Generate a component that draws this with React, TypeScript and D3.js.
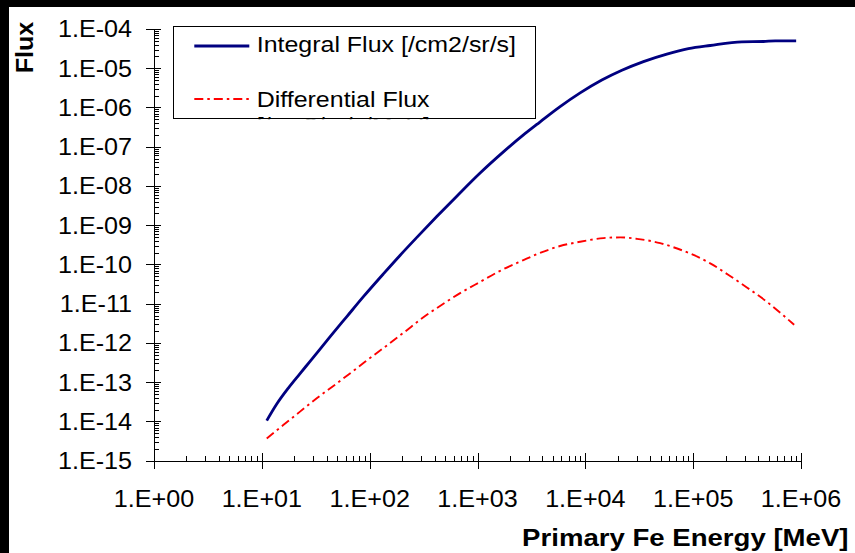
import React from "react";
import * as d3 from "d3";

// Integral flux of primary Fe vs. energy
const integralEnergy = [
  11.1, 13.7, 17.6, 22.6, 28.0, 43.0, 61.4, 87.5, 134, 191, 274, 419, 643, 1057,
  1738, 2667, 3548, 4550, 5834, 8954, 14220, 21830, 34590, 57020, 90360, 143900,
  283100, 448700, 576800, 901600,
];
const integralFlux = [
  1.05e-14, 2.75e-14, 7.1e-14, 1.66e-13, 3.4e-13, 1.45e-12, 4.7e-12, 1.51e-11,
  5.75e-11, 1.7e-10, 4.9e-10, 1.66e-9, 5.5e-9, 2.14e-8, 7.4e-8, 2.0e-7, 3.7e-7,
  6.3e-7, 1.05e-6, 2.35e-6, 5.0e-6, 8.9e-6, 1.48e-5, 2.3e-5, 3.16e-5, 3.8e-5,
  4.7e-5, 4.8e-5, 5.0e-5, 5.0e-5,
];

// Differential flux of primary Fe vs. energy
const differentialEnergy = [
  11.1, 15.8, 22.6, 32.3, 49.5, 70.6, 90.6, 134, 206, 315, 483, 690, 1057, 1622,
  2667, 3548, 5834, 8954, 14720, 21040, 30060, 49430, 65610, 93760, 143900,
  212800, 314800, 483100, 688700, 865000,
];
const differentialFlux = [
  3.7e-15, 8.1e-15, 1.78e-14, 3.9e-14, 9.3e-14, 1.95e-13, 3.3e-13, 7.4e-13,
  1.82e-12, 4.5e-12, 1.0e-11, 1.86e-11, 3.6e-11, 6.9e-11, 1.29e-10, 1.82e-10,
  2.95e-10, 3.8e-10, 4.7e-10, 4.9e-10, 4.5e-10, 3.5e-10, 2.75e-10, 1.9e-10,
  1.07e-10, 5.4e-11, 2.6e-11, 1.12e-11, 5.0e-12, 2.9e-12,
];

const xTickLabels = ["1.E+00", "1.E+01", "1.E+02", "1.E+03", "1.E+04", "1.E+05", "1.E+06"];
const yTickLabels = [
  "1.E-15", "1.E-14", "1.E-13", "1.E-12", "1.E-11", "1.E-10",
  "1.E-09", "1.E-08", "1.E-07", "1.E-06", "1.E-05", "1.E-04",
];
const xTitle = "Primary Fe Energy [MeV]";
const yTitle = "Flux";
const integralLegend = ["Integral Flux [/cm2/sr/s]"];
const differentialLegend = ["Differential Flux", "[/cm2/sr/s/MeV]"];

const W = 855;
const H = 553;
const FONT = "'Liberation Sans', Arial, Helvetica, sans-serif";
const NAVY = "#000080";
const RED = "#ff0000";
const DASH = "9,4,2.5,4";

const x = d3.scaleLog().domain([1, 1e6]).range([154, 801]);
const y = d3.scaleLog().domain([1e-15, 1e-4]).range([460.7, 29]);

const xMajor = d3.range(0, 7).map((k) => Math.pow(10, k));
const yMajor = d3.range(-15, -3).map((k) => Math.pow(10, k));
const xMinor = d3.range(0, 6).flatMap((k) => d3.range(2, 10).map((m) => m * Math.pow(10, k)));
const yMinor = d3.range(-15, -4).flatMap((k) => d3.range(2, 10).map((m) => m * Math.pow(10, k)));

const line = d3
  .line<[number, number]>()
  .x((d) => x(d[0]))
  .y((d) => y(d[1]))
  .curve(d3.curveMonotoneX);

const integralPath = line(integralEnergy.map((e, i) => [e, integralFlux[i]] as [number, number]));
const differentialPath = line(
  differentialEnergy.map((e, i) => [e, differentialFlux[i]] as [number, number])
);

type LabelProps = {
  x: number;
  y: number;
  size: number;
  sx?: number;
  anchor?: "start" | "middle" | "end";
  bold?: boolean;
  rotate?: number;
  fill?: string;
  children: React.ReactNode;
};

function Label({ x, y, size, sx = 1, anchor = "start", bold, rotate = 0, fill = "#000", children }: LabelProps) {
  return (
    <g transform={`translate(${x},${y}) rotate(${rotate}) scale(${sx},1)`}>
      <text
        x={0}
        y={0}
        textAnchor={anchor}
        fontFamily={FONT}
        fontSize={size}
        fontWeight={bold ? "bold" : "normal"}
        fill={fill}
      >
        {children}
      </text>
    </g>
  );
}

export default function App() {
  const x0 = x(1);
  const yBase = y(1e-15);
  const crisp = (v: number) => Math.round(v) + 0.5;

  return (
    <div style={{ position: "absolute", left: 0, top: 0, width: W, height: H }}>
      <svg width={W} height={H} viewBox={`0 0 ${W} ${H}`} style={{ display: "block" }}>
        <defs>
          <clipPath id="legend-clip">
            <rect x={173} y={26} width={364} height={93.3} />
          </clipPath>
        </defs>
        <rect x={0} y={0} width={W} height={H} fill="#fff" />
        <rect x={0} y={0} width={W} height={7} fill="#000" />
        <rect x={0} y={0} width={9} height={H} fill="#000" />

        {/* data lines */}
        <path d={integralPath ?? ""} fill="none" stroke={NAVY} strokeWidth={2.8} strokeLinejoin="round" />
        <path
          d={differentialPath ?? ""}
          fill="none"
          stroke={RED}
          strokeWidth={1.9}
          strokeDasharray={DASH}
        />

        {/* y axis */}
        <g stroke="#000" strokeWidth={1} shapeRendering="crispEdges">
          <line x1={crisp(x0)} x2={crisp(x0)} y1={y(1e-4)} y2={yBase} />
          {yMajor.map((v) => (
            <line key={`ym${v}`} x1={146} x2={161} y1={crisp(y(v))} y2={crisp(y(v))} />
          ))}
          {yMinor.map((v) => (
            <line key={`yn${v}`} x1={crisp(x0)} x2={159} y1={crisp(y(v))} y2={crisp(y(v))} />
          ))}
        </g>
        {yMajor.map((v, i) => (
          <Label key={`yl${v}`} x={132} y={y(v) + 8.3} size={23.3} sx={1.08} anchor="end">
            {yTickLabels[i]}
          </Label>
        ))}

        {/* x axis */}
        <g stroke="#000" strokeWidth={1} shapeRendering="crispEdges">
          <line x1={x0} x2={x(1e6)} y1={crisp(yBase)} y2={crisp(yBase)} />
          {xMajor.map((v) => (
            <line key={`xm${v}`} x1={crisp(x(v))} x2={crisp(x(v))} y1={453} y2={469} />
          ))}
          {xMinor.map((v) => (
            <line key={`xn${v}`} x1={crisp(x(v))} x2={crisp(x(v))} y1={455.5} y2={crisp(yBase)} />
          ))}
        </g>
        {xMajor.map((v, i) => (
          <Label key={`xl${v}`} x={x(v)} y={506.7} size={23.3} sx={1.08} anchor="middle">
            {xTickLabels[i]}
          </Label>
        ))}

        {/* axis titles */}
        <Label x={848.5} y={545.7} size={24.3} sx={1.135} anchor="end" bold>
          {xTitle}
        </Label>
        <Label x={33} y={47.5} size={23.3} sx={1.08} anchor="middle" bold rotate={-90}>
          {yTitle}
        </Label>

        {/* legend */}
        <rect x={173.5} y={26.5} width={362} height={92} fill="#fff" stroke="#000" strokeWidth={1} />
        <line x1={194.3} x2={249.3} y1={46} y2={46} stroke={NAVY} strokeWidth={2.8} />
        <line x1={194.3} x2={249.3} y1={99} y2={99} stroke={RED} strokeWidth={1.9} strokeDasharray={DASH} />
        <Label x={256.7} y={52.3} size={22.5} sx={1.11}>
          {integralLegend[0]}
        </Label>
        <g clipPath="url(#legend-clip)">
          {differentialLegend.map((t, i) => (
            <Label key={t} x={256.7} y={106.7 + i * 26} size={22.5} sx={1.11}>
              {t}
            </Label>
          ))}
        </g>
      </svg>
    </div>
  );
}
